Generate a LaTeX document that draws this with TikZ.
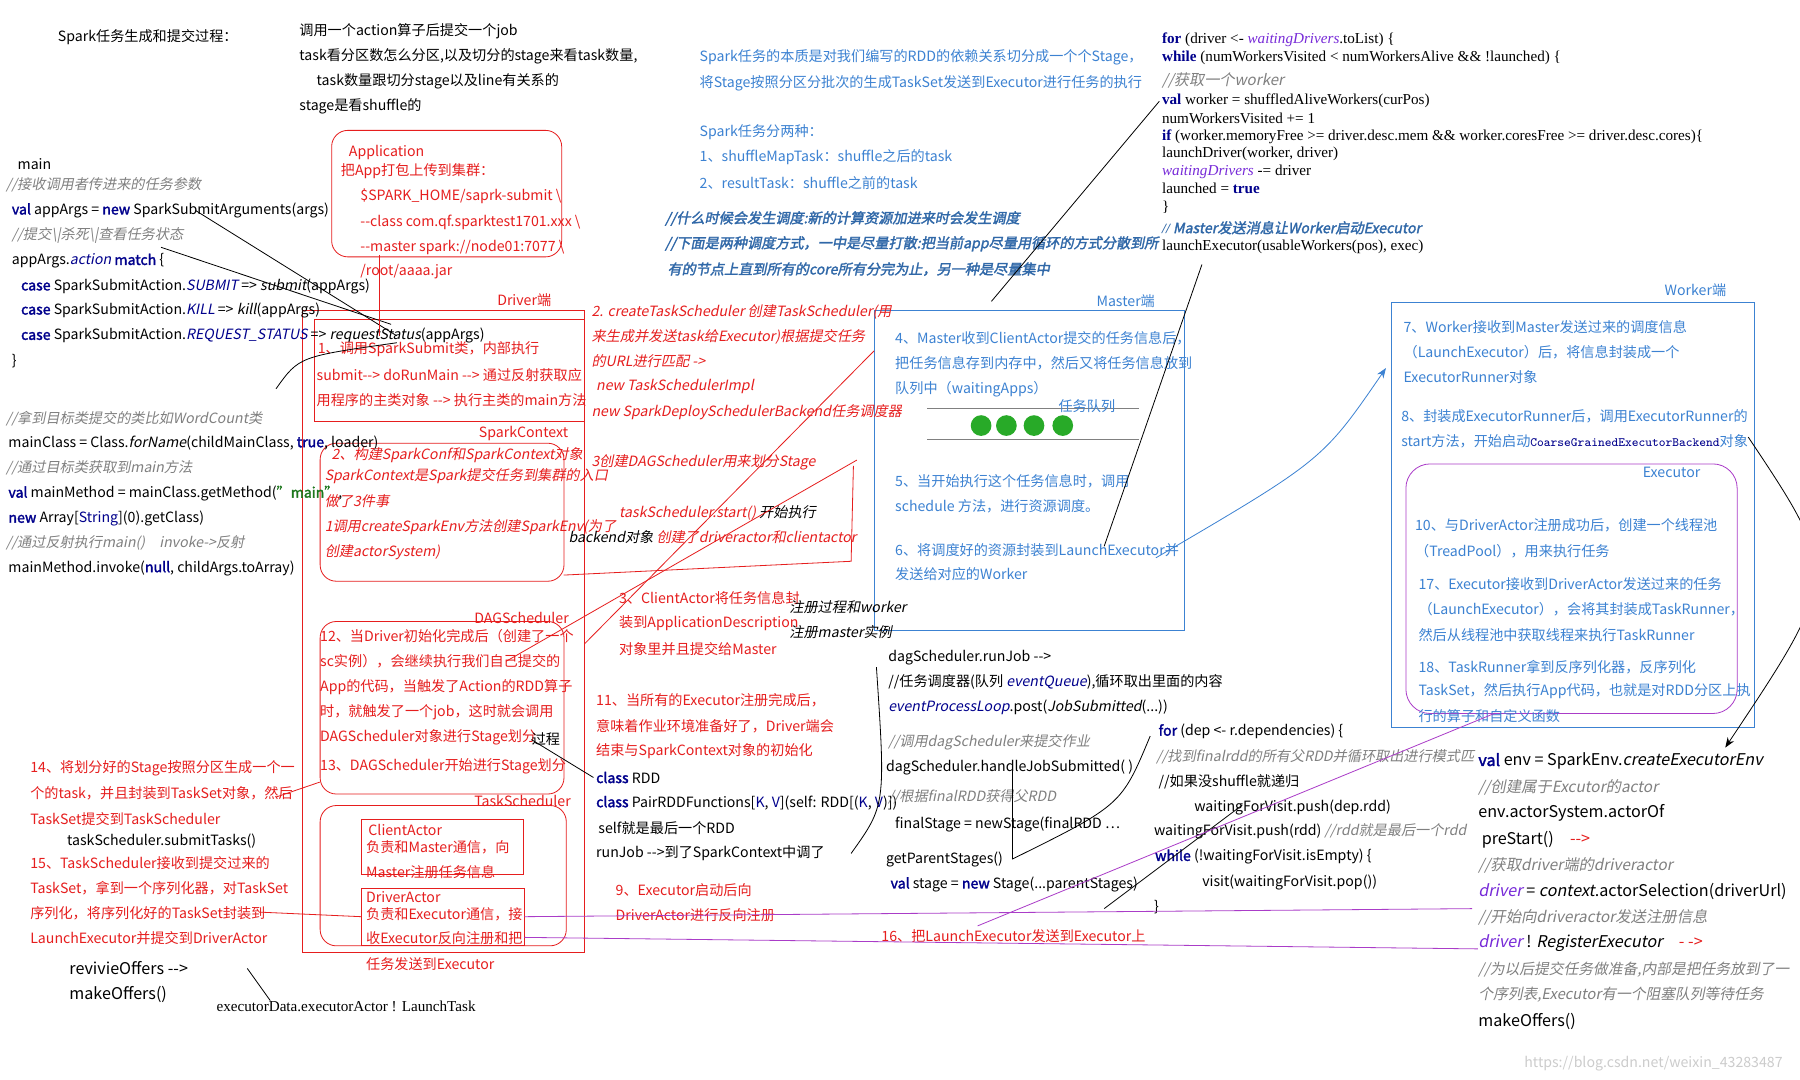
\documentclass[tikz,border=0pt]{standalone}
\usepackage{fontspec}
\setmainfont{Noto Sans CJK SC}[AutoFakeSlant=0.2,AutoFakeBold=2]
\newfontfamily\serf{Liberation Serif}
\usetikzlibrary{arrows.meta}
\newcounter{tn}
\newcommand\T[4]{\stepcounter{tn}\node[txt,#3] (n\arabic{tn}) at (#1,-#2) {#4};}
\definecolor{rd}{RGB}{230,30,30}
\definecolor{bl}{RGB}{60,130,210}
\definecolor{kw}{RGB}{0,0,140}
\definecolor{gr}{RGB}{128,128,128}
\definecolor{pu}{RGB}{170,60,200}
\definecolor{gn}{RGB}{40,170,40}
\tikzset{txt/.style={anchor=west,inner sep=0pt,font=\fontsize{7}{8}\selectfont},
 r/.style={text=rd}, ri/.style={text=rd,font=\fontsize{7}{8}\selectfont\itshape},
 b/.style={text=bl}, bbi/.style={text=bl!80!black,font=\fontsize{7}{8}\selectfont\bfseries\itshape},
 g/.style={text=gr,font=\fontsize{7}{8}\selectfont\itshape},
 s/.style={font=\fontsize{7.5}{8}\selectfont\serf},
 rg/.style={text=gr,font=\fontsize{7.5}{8}\selectfont\itshape},
 big/.style={font=\fontsize{8}{9}\selectfont},
 bigg/.style={text=gr,font=\fontsize{7.6}{9}\selectfont\itshape},
 rbox/.style={draw=rd,thin,rounded corners=8pt},
 rl/.style={draw=rd,thin}, bk/.style={draw=black,thin}, pl/.style={draw=pu,thin}}
\newcommand\kw[1]{{\bfseries\color{kw}#1}}
\newcommand\ar{-{}->}
\begin{document}
\begin{tikzpicture}[x=0.02cm,y=0.02cm]
\useasboundingbox[fill=white] (0,0) rectangle (1565,-939);
% ---------- boxes ----------
\node[rbox,minimum width=200*0.02cm,minimum height=110*0.02cm,anchor=north west] (app) at (288,-113) {};
\draw[rl] (263,-270) rectangle (508,-828);
\draw[rl] (273,-278) rectangle (508,-366);
\node[rbox,minimum width=212*0.02cm,minimum height=120*0.02cm,anchor=north west] (sc) at (278,-385) {};
\node[rbox,minimum width=212*0.02cm,minimum height=150*0.02cm,anchor=north west] (dag) at (278,-540) {};
\node[rbox,minimum width=214*0.02cm,minimum height=122*0.02cm,anchor=north west] (ts) at (278,-700) {};
\draw[rl] (314,-712) rectangle (455,-760);
\draw[rl] (314,-772) rectangle (456,-822);
\draw[draw=bl] (760,-270) rectangle (1030,-548);
\draw[draw=bl] (1210,-263) rectangle (1525,-632);
\node[draw=pu,rounded corners=12pt,minimum width=288*0.02cm,minimum height=217*0.02cm,anchor=north west] (exe) at (1222,-403) {};
% queue
\draw[gr] (806,-355) -- (990,-355); \draw[gr] (806,-382) -- (990,-382);
\foreach \x in {853,875,899,924} \fill[gn] (\x,-370) circle (9);
% ---------- left ----------
\T{50}{32}{}{Spark任务生成和提交过程：}
\T{260}{27}{}{调用一个action算子后提交一个job}
\T{260}{49}{}{task看分区数怎么分区,以及切分的stage来看task数量,}
\T{275}{71}{}{task数量跟切分stage以及line有关系的}
\T{260}{92}{}{stage是看shuffle的}
\T{15}{143}{}{main}
\T{5}{161}{g}{//接收调用者传进来的任务参数}
\T{10}{183}{}{\kw{val} appArgs = \kw{new} SparkSubmitArguments(args)}
\T{10}{205}{g}{//提交\textbackslash|杀死\textbackslash|查看任务状态}
\T{10}{227}{}{appArgs.{\itshape\color{kw}action} \kw{match} \{}
\T{18}{249}{}{\kw{case} SparkSubmitAction.{\itshape\color{kw}SUBMIT} => {\itshape submit}(appArgs)}
\T{18}{270}{}{\kw{case} SparkSubmitAction.{\itshape\color{kw}KILL} => {\itshape kill}(appArgs)}
\T{18}{292}{}{\kw{case} SparkSubmitAction.{\itshape\color{kw}REQUEST\_STATUS} => {\itshape requestStatus}(appArgs)}
\T{10}{314}{}{\}}
\T{5}{364}{g}{//拿到目标类提交的类比如WordCount类}
\T{7}{385}{}{mainClass = Class.{\itshape forName}(childMainClass, \kw{true}, loader)}
\T{5}{407}{g}{//通过目标类获取到main方法}
\T{7}{429}{}{\kw{val} mainMethod = mainClass.getMethod({\bfseries\color{gn!70!black}\char34 main\char34},}
\T{7}{451}{}{\kw{new} Array[{\color{kw}String}](0).getClass)}
\T{5}{472}{g}{//通过反射执行main()\quad invoke->反射}
\T{7}{494}{}{mainMethod.invoke(\kw{null}, childArgs.toArray)}
% application
\T{303}{133}{r}{Application}
\T{296}{149}{r}{把App打包上传到集群：}
\T{313}{171}{r}{\$SPARK\_HOME/saprk-submit \textbackslash}
\T{313}{193}{r}{-{}-class com.qf.sparktest1701.xxx \textbackslash}
\T{313}{215}{r}{-{}-master spark://node01:7077 \textbackslash}
\T{313}{236}{r}{/root/aaaa.jar}
% driver
\T{432}{261}{r}{Driver端}
\T{276}{304}{r}{1、调用SparkSubmit类，内部执行}
\T{275}{326}{r}{submit\ar{} doRunMain \ar{} 通过反射获取应}
\T{275}{348}{r}{用程序的主类对象 \ar{} 执行主类的main方法}
\T{416}{377}{r}{SparkContext}
\T{288}{396}{ri}{2、构建SparkConf和SparkContext对象}
\T{282}{414}{ri}{SparkContext是Spark提交任务到集群的入口}
\T{282}{436}{ri}{做了3件事}
\T{282}{458}{ri}{1调用createSparkEnv方法创建SparkEnv(为了}
\T{282}{480}{ri}{创建actorSystem)}
\T{412}{537}{r}{DAGScheduler}
\T{278}{553}{r}{12、当Driver初始化完成后（创建了一个}
\T{278}{575}{r}{sc实例），会继续执行我们自己提交的}
\T{278}{597}{r}{App的代码，当触发了Action的RDD算子}
\T{278}{619}{r}{时，就触发了一个job，这时就会调用}
\T{278}{641}{r}{DAGScheduler对象进行Stage划分}
\T{462}{643}{}{过程}
\T{278}{666}{r}{13、DAGScheduler开始进行Stage划分}
\T{412}{696}{r}{TaskScheduler}
\T{320}{722}{r}{ClientActor}
\T{318}{737}{r}{负责和Master通信，向}
\T{318}{758}{r}{Master注册任务信息}
\T{318}{780}{r}{DriverActor}
\T{318}{795}{r}{负责和Executor通信，接}
\T{318}{816}{r}{收Executor反向注册和把}
\T{318}{838}{r}{任务发送到Executor}
\T{26}{668}{r}{14、将划分好的Stage按照分区生成一个一}
\T{26}{690}{r}{个的task，并且封装到TaskSet对象，然后}
\T{26}{712}{r}{TaskSet提交到TaskScheduler}
\T{58}{731}{}{taskScheduler.submitTasks()}
\T{26}{750}{r}{15、TaskScheduler接收到提交过来的}
\T{26}{772}{r}{TaskSet，拿到一个序列化器，对TaskSet}
\T{26}{794}{r}{序列化，将序列化好的TaskSet封装到}
\T{26}{816}{r}{LaunchExecutor并提交到DriverActor}
\T{60}{842}{big}{revivieOffers \ar}
\T{60}{865}{big}{makeOffers()}
\T{188}{875}{s}{executorData.executorActor ! LaunchTask}
% middle red
\T{514}{271}{ri}{2. createTaskScheduler 创建TaskScheduler(用}
\T{514}{293}{ri}{来生成并发送task给Executor)根据提交任务}
\T{514}{314}{ri}{的URL进行匹配 ->}
\T{518}{336}{ri}{new TaskSchedulerImpl}
\T{514}{358}{ri}{new SparkDeploySchedulerBackend任务调度器}
\T{514}{402}{ri}{3创建DAGScheduler用来划分Stage}
\T{538}{446}{ri}{taskScheduler.start() {\color{black}开始执行}}
\T{494}{467}{ri}{{\color{black}backend对象} 创建了driveractor和clientactor}
\T{538}{520}{r}{3、ClientActor将任务信息封}
\T{538}{542}{r}{装到ApplicationDescription}
\T{538}{564}{r}{对象里并且提交给Master}
\T{686}{528}{ri,text=black}{注册过程和worker}
\T{686}{550}{ri,text=black}{注册master实例}
\T{518}{609}{r}{11、当所有的Executor注册完成后，}
\T{518}{631}{r}{意味着作业环境准备好了，Driver端会}
\T{518}{653}{r}{结束与SparkContext对象的初始化}
\T{518}{676}{}{\kw{class} RDD}
\T{518}{698}{}{\kw{class} PairRDDFunctions[{\color{kw}K}, {\color{kw}V}](self: RDD[({\color{kw}K}, {\color{kw}V})])}
\T{520}{720}{}{self就是最后一个RDD}
\T{518}{742}{}{runJob \ar{}到了SparkContext中调了}
\T{535}{774}{r}{9、Executor启动后向}
\T{535}{796}{r}{DriverActor进行反向注册}
\T{766}{814}{r}{16、把LaunchExecutor发送到Executor上}
% center code
\T{772}{572}{}{dagScheduler.runJob \ar}
\T{772}{593}{}{//任务调度器(队列 {\itshape\color{kw}eventQueue}),循环取出里面的内容}
\T{772}{615}{}{{\itshape\color{kw}eventProcessLoop}.post({\itshape JobSubmitted}(...))}
\T{772}{645}{g}{//调用dagScheduler来提交作业}
\T{770}{667}{}{dagScheduler.handleJobSubmitted( )}
\T{772}{693}{g}{//根据finalRDD获得父RDD}
\T{778}{717}{}{finalStage = newStage(finalRDD \ldots}
\T{770}{747}{}{getParentStages()}
\T{774}{769}{}{\kw{val} stage = \kw{new} Stage(...parentStages)}
\T{1007}{636}{}{\kw{for} (dep <- r.dependencies) \{}
\T{1005}{658}{g}{//找到finalrdd的所有父RDD并循环取出进行模式匹}
\T{1007}{680}{}{//如果没shuffle就递归}
\T{1038}{702}{}{waitingForVisit.push(dep.rdd)}
\T{1003}{723}{}{waitingForVisit.push(rdd) {\itshape\color{gr}//rdd就是最后一个rdd}}
\T{1004}{745}{}{\kw{while} (!waitingForVisit.isEmpty) \{}
\T{1045}{767}{}{visit(waitingForVisit.pop())}
\T{1003}{789}{}{\}}
% top blue
\T{608}{50}{b}{Spark任务的本质是对我们编写的RDD的依赖关系切分成一个个Stage，}
\T{608}{72}{b}{将Stage按照分区分批次的生成TaskSet发送到Executor进行任务的执行}
\T{608}{115}{b}{Spark任务分两种：}
\T{608}{137}{b}{1、shuffleMapTask：shuffle之后的task}
\T{608}{159}{b}{2、resultTask：shuffle之前的task}
\T{578}{190}{bbi}{//什么时候会发生调度:新的计算资源加进来时会发生调度}
\T{578}{212}{bbi}{//下面是两种调度方式，一中是尽量打散:把当前app尽量用循环的方式分散到所}
\T{580}{234}{bbi}{有的节点上直到所有的core所有分完为止，另一种是尽量集中}
% top right
\T{1010}{35}{s}{\textbf{\color{kw}for} (driver <- {\itshape\color{pu!70!blue}waitingDrivers}.toList) \{}
\T{1010}{50}{s}{\textbf{\color{kw}while} (numWorkersVisited < numWorkersAlive \&\& !launched) \{}
\T{1010}{70}{rg}{//获取一个worker}
\T{1010}{88}{s}{\textbf{\color{kw}val} worker = shuffledAliveWorkers(curPos)}
\T{1010}{103}{s}{numWorkersVisited += 1}
\T{1010}{119}{s}{\textbf{\color{kw}if} (worker.memoryFree >= driver.desc.mem \&\& worker.coresFree >= driver.desc.cores)\{}
\T{1010}{134}{s}{launchDriver(worker, driver)}
\T{1010}{149}{s}{{\itshape\color{pu!70!blue}waitingDrivers} -= driver}
\T{1010}{164}{s}{launched = \textbf{\color{kw}true}}
\T{1010}{180}{s}{\}}
\T{1010}{198}{bbi}{{\serf //} Master发送消息让Worker启动Executor}
\T{1010}{215}{s}{launchExecutor(usableWorkers(pos), exec)}
% master
\T{953}{262}{b}{Master端}
\T{778}{294}{b}{4、Master收到ClientActor提交的任务信息后，}
\T{778}{316}{b}{把任务信息存到内存中，然后又将任务信息放到}
\T{778}{338}{b}{队列中（waitingApps）}
\T{920}{353}{b}{任务队列}
\T{778}{418}{b}{5、当开始执行这个任务信息时，调用}
\T{778}{440}{b}{schedule 方法，进行资源调度。}
\T{778}{478}{b}{6、将调度好的资源封装到LaunchExecutor并}
\T{778}{499}{b}{发送给对应的Worker}
% worker
\T{1447}{252}{b}{Worker端}
\T{1220}{284}{b}{7、Worker接收到Master发送过来的调度信息}
\T{1220}{306}{b}{（LaunchExecutor）后，将信息封装成一个}
\T{1220}{328}{b}{ExecutorRunner对象}
\T{1218}{362}{b}{8、封装成ExecutorRunner后，调用ExecutorRunner的}
\T{1218}{384}{b}{start方法，开始启动{\ttfamily\fontsize{6.3}{7}\selectfont\color{kw}CoarseGrainedExecutorBackend}对象}
\T{1428}{411}{b}{Executor}
\T{1230}{457}{b}{10、与DriverActor注册成功后，创建一个线程池}
\T{1230}{479}{b}{（TreadPool），用来执行任务}
\T{1233}{508}{b}{17、Executor接收到DriverActor发送过来的任务}
\T{1233}{530}{b}{（LaunchExecutor），会将其封装成TaskRunner，}
\T{1233}{552}{b}{然后从线程池中获取线程来执行TaskRunner}
\T{1233}{580}{b}{18、TaskRunner拿到反序列化器，反序列化}
\T{1233}{601}{b}{TaskSet，然后执行App代码，也就是对RDD分区上执}
\T{1233}{623}{b}{行的算子和自定义函数}
% right bottom
\T{1285}{662}{big}{\kw{val} env = SparkEnv.{\itshape createExecutorEnv}}
\T{1285}{685}{bigg}{//创建属于Excutor的actor}
\T{1285}{707}{big}{env.actorSystem.actorOf}
\T{1288}{730}{big}{preStart()\quad {\color{rd}\ar}}
\T{1285}{752}{bigg}{//获取driver端的driveractor}
\T{1285}{775}{big}{{\itshape\color{pu!70!blue}driver} = {\itshape context}.actorSelection(driverUrl)}
\T{1285}{798}{bigg}{//开始向driveractor发送注册信息}
\T{1285}{820}{big}{{\itshape\color{pu!70!blue}driver} ! {\itshape RegisterExecutor}\quad {\color{rd}- ->}}
\T{1285}{843}{bigg,font=\fontsize{7.3}{9}\selectfont\itshape}{//为以后提交任务做准备,内部是把任务放到了一}
\T{1285}{865}{bigg,font=\fontsize{7.3}{9}\selectfont\itshape}{个序列表,Executor有一个阻塞队列等待任务}
\T{1285}{888}{big}{makeOffers()}
\T{1325}{925}{}{\color{gr!40}https://blog.csdn.net/weixin\_43283487}
% ---------- connectors ----------
\coordinate (a1) at (170,-183); \coordinate (a2) at (345,-292);
\draw[bk] (a1) -- (a2);
\coordinate (a3) at (140,-215); \coordinate (a3b) at (340,-282); \draw[bk] (a3) -- (a3b);
\coordinate (a4) at (240,-338); \coordinate (a4b) at (345,-298);
\draw[bk] (a4) .. controls (260,-310) .. (a4b);
\coordinate (p1) at (330,-222); \coordinate (p2) at (330,-292); \draw[rl] (p1) -- (p2);
\draw[rl] (490,-500) -- (740,-488) -- (742,-405);
\draw[rl] (508,-560) -- (760,-305);
\draw[rl] (440,-575) -- (745,-400);
\draw[rl] (240,-693) -- (278,-680);
\draw[rl] (225,-793) -- (314,-797);
\draw[bk] (215,-842) -- (235,-870);
\draw[bk] (462,-643) -- (516,-676);
\draw[bk] (740,-742) .. controls (770,-700) .. (762,-580);
\draw[bk] (880,-667) -- (880,-747);
\draw[bk] (1000,-640) .. controls (975,-700) .. (880,-747);
\draw[bk] (1080,-700) -- (960,-790);
\draw[bk] (1008,-88) -- (862,-262);
\draw[bk] (1045,-230) -- (960,-475);
\draw[bl,-{Stealth[length=5pt]}] (1005,-485) .. controls (1150,-400) .. (1205,-320);
\draw[bk,-{Stealth[length=5pt]}] (1520,-380) .. controls (1600,-500) .. (1500,-650);
\draw[pl] (456,-797) -- (1280,-790);
\draw[pl] (456,-815) -- (1285,-825);
\draw[pl] (1300,-620) -- (850,-805);
\end{tikzpicture}
\end{document}
